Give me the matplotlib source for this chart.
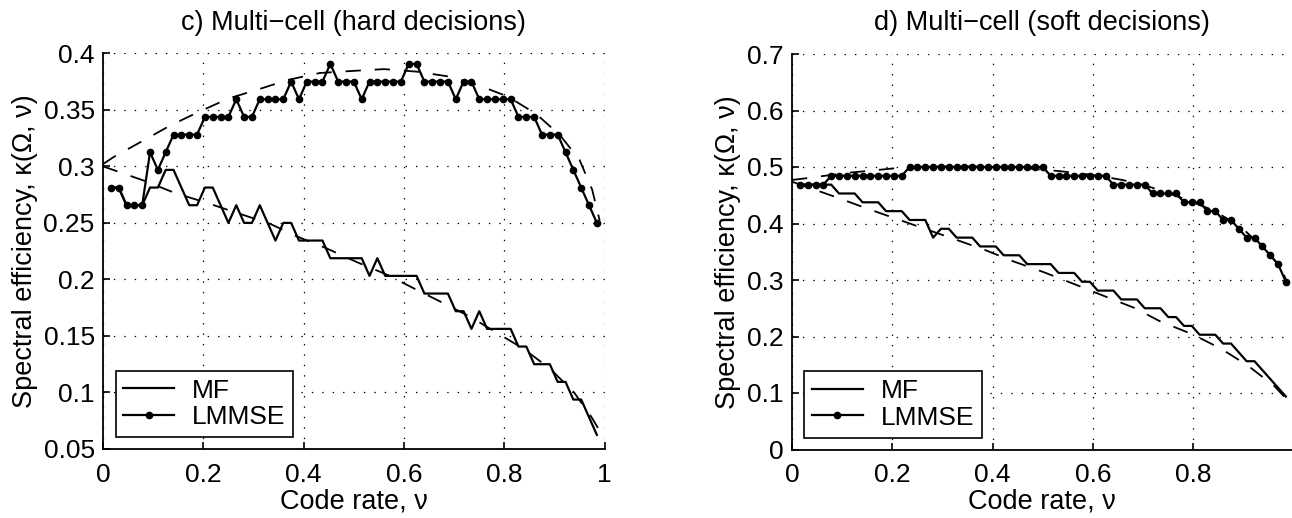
import numpy as np
import matplotlib
matplotlib.use("Agg")
import matplotlib.pyplot as plt
from matplotlib.lines import Line2D

plt.rcParams['font.family'] = ['Liberation Sans', 'DejaVu Sans']
plt.rcParams['lines.scale_dashes'] = False

# ---------------- data ----------------
QUANT = 64
code_rate = np.arange(1, 64) / QUANT          # rate grid k/64, k = 1..63

# (c) hard decisions, spectral efficiency in units of 1/64
mf_hard_levels = [18, 18, 17, 17, 17, 18, 18, 19, 19, 18, 17, 17, 18, 18, 17, 16,
                  17, 16, 16, 17, 16, 15, 16, 16, 15, 15, 15, 15, 14, 14, 14, 14,
                  14, 13, 14, 13, 13, 13, 13, 13, 12, 12, 12, 12, 11, 11, 10, 11,
                  10, 10, 10, 10, 9, 9, 8, 8, 8, 7, 7, 6, 6, 5, 4]
lmmse_hard_levels = [18, 18, 17, 17, 17, 20, 19, 20, 21, 21, 21, 21, 22, 22, 22, 22,
                     23, 22, 22, 23, 23, 23, 23, 24, 23, 24, 24, 24, 25, 24, 24, 24,
                     23, 24, 24, 24, 24, 24, 25, 25, 24, 24, 24, 24, 23, 24, 24, 23,
                     23, 23, 23, 23, 22, 22, 22, 21, 21, 21, 20, 19, 18, 17, 16]

# (d) soft decisions, units of 1/64
mf_soft_levels = [30, 30, 30, 30, 30, 29, 29, 29, 28, 28, 28, 27, 27, 27, 26, 26,
                  26, 24, 25, 25, 24, 24, 24, 23, 23, 23, 22, 22, 22, 21, 21, 21,
                  21, 20, 20, 20, 19, 19, 18, 18, 18, 17, 17, 17, 16, 16, 16, 15,
                  15, 14, 14, 13, 13, 13, 12, 12, 11, 10, 10, 9, 8, 7, 6]
lmmse_soft_levels = [30, 30, 30, 30, 31, 31, 31, 31, 31, 31, 31, 31, 31, 31, 32, 32,
                     32, 32, 32, 32, 32, 32, 32, 32, 32, 32, 32, 32, 32, 32, 32, 32,
                     31, 31, 31, 31, 31, 31, 31, 31, 30, 30, 30, 30, 30, 29, 29, 29,
                     29, 28, 28, 28, 27, 27, 26, 26, 25, 24, 24, 23, 22, 21, 19]

# theoretical (dashed) curves
mf_hard_theory_x = [0, 0.084, 0.143, 0.207, 0.266, 0.333, 0.384, 0.446, 0.506, 0.566,
                    0.619, 0.675, 0.733, 0.785, 0.837, 0.891, 0.939, 0.974, 0.99]
mf_hard_theory_y = [0.300, 0.287, 0.2765, 0.2677, 0.259, 0.2492, 0.2385, 0.2274, 0.2153,
                    0.2042, 0.1922, 0.1798, 0.1667, 0.1527, 0.139, 0.1211, 0.100, 0.078,
                    0.066]
lmmse_hard_theory_x = [0, 0.022, 0.077, 0.1335, 0.19, 0.25, 0.309, 0.369, 0.4325, 0.497,
                       0.56, 0.625, 0.686, 0.747, 0.807, 0.863, 0.911, 0.950, 0.975, 0.99]
lmmse_hard_theory_y = [0.302, 0.3085, 0.322, 0.336, 0.348, 0.36, 0.368, 0.3765, 0.3826,
                       0.3844, 0.386, 0.3838, 0.3797, 0.372, 0.3617, 0.3465, 0.3275,
                       0.3056, 0.2794, 0.252]
mf_soft_theory_x = [0, 0.084, 0.144, 0.2033, 0.263, 0.323, 0.385, 0.443, 0.502, 0.563,
                    0.622, 0.683, 0.7335, 0.798, 0.856, 0.9096, 0.961, 0.99]
mf_soft_theory_y = [0.474, 0.4478, 0.4283, 0.4097, 0.3912, 0.3726, 0.353, 0.3324, 0.3138,
                    0.2926, 0.2717, 0.2504, 0.2269, 0.204, 0.178, 0.1478, 0.1127, 0.085]
lmmse_soft_theory_x = [0, 0.024, 0.11, 0.155, 0.213, 0.25, 0.3, 0.4, 0.45, 0.531, 0.6,
                       0.659, 0.717, 0.783, 0.838, 0.893, 0.946, 0.973, 0.99]
lmmse_soft_theory_y = [0.477, 0.4796, 0.4897, 0.4933, 0.4985, 0.500, 0.501, 0.501, 0.499,
                       0.4929, 0.486, 0.477, 0.4637, 0.4434, 0.4239, 0.3956, 0.3513,
                       0.3235, 0.29]

titles = ["c) Multi\u2212cell (hard decisions)", "d) Multi\u2212cell (soft decisions)"]
xlabel = "Code rate, \u03bd"
ylabel = "Spectral efficiency, \u03ba(\u03a9, \u03bd)"
legend_labels = ["MF", "LMMSE"]
xticks_c = [0, 0.2, 0.4, 0.6, 0.8, 1]
xtick_labels_c = ["0", "0.2", "0.4", "0.6", "0.8", "1"]
yticks_c = [0.05, 0.1, 0.15, 0.2, 0.25, 0.3, 0.35, 0.4]
ytick_labels_c = ["0.05", "0.1", "0.15", "0.2", "0.25", "0.3", "0.35", "0.4"]
xticks_d = [0, 0.2, 0.4, 0.6, 0.8]
xtick_labels_d = ["0", "0.2", "0.4", "0.6", "0.8"]
yticks_d = [0, 0.1, 0.2, 0.3, 0.4, 0.5, 0.6, 0.7]
ytick_labels_d = ["0", "0.1", "0.2", "0.3", "0.4", "0.5", "0.6", "0.7"]

# ---------------- figure ----------------
W, H = 1292, 518
fig = plt.figure(figsize=(W / 100, H / 100), dpi=100)
ax1 = fig.add_axes([103 / W, 1 - 449 / H, 501.7 / W, (449 - 53.3) / H])
ax2 = fig.add_axes([792 / W, 1 - 449.5 / H, 0.996 * 501.7 / W, (449.5 - 54) / H])

FS = 19
FS_LAB = 19.5
LW = 1.6
DASH = (0, (11, 10))


def style(ax, xlim, ylim, xt, xtl, yt, ytl, title):
    ax.set_xlim(*xlim)
    ax.set_ylim(*ylim)
    ax.set_xticks(xt)
    ax.set_xticklabels(xtl)
    ax.set_yticks(yt)
    ax.set_yticklabels(ytl)
    for s in ("top", "right"):
        ax.spines[s].set_visible(False)
    for s in ("left", "bottom"):
        ax.spines[s].set_linewidth(1.3)
    ax.tick_params(direction="in", length=5, width=1.2, labelsize=FS,
                   top=False, right=False)
    ax.tick_params(axis="y", pad=6)
    ax.tick_params(axis="x", pad=10)
    ax.grid(True, color="black", linestyle=(0, (1, 6.5)), linewidth=0.9)
    ax.set_axisbelow(True)
    ax.set_title(title, fontsize=FS_LAB, pad=17)
    ax.set_xlabel(xlabel, fontsize=FS_LAB, labelpad=1)
    ax.set_ylabel(ylabel, fontsize=FS_LAB, labelpad=4)


def draw(ax, mf_levels, lm_levels, mfx, mfy, lmx, lmy):
    mf = np.array(mf_levels) / QUANT
    lm = np.array(lm_levels) / QUANT
    ax.plot(mfx, mfy, color="black", lw=1.3, linestyle=DASH, zorder=3)
    ax.plot(lmx, lmy, color="black", lw=1.3, linestyle=DASH, zorder=3)
    ax.plot(code_rate, mf, color="black", lw=LW, zorder=4)
    ax.plot(code_rate, lm, color="black", lw=LW, marker="o", markersize=4.5,
            zorder=5, clip_on=False)
    handles = [Line2D([], [], color="black", lw=LW),
               Line2D([], [], color="black", lw=LW, marker="o", markersize=4.5)]
    leg = ax.legend(handles, legend_labels, loc="lower left",
                    bbox_to_anchor=(0.025, 0.03), fontsize=FS, frameon=True,
                    fancybox=False, edgecolor="black", framealpha=1,
                    handlelength=1.9, handletextpad=0.7, borderpad=0.3,
                    labelspacing=0.1, borderaxespad=0)
    leg.get_frame().set_linewidth(1.2)


draw(ax1, mf_hard_levels, lmmse_hard_levels, mf_hard_theory_x, mf_hard_theory_y,
     lmmse_hard_theory_x, lmmse_hard_theory_y)
style(ax1, (0, 1), (0.05, 0.4), xticks_c, xtick_labels_c, yticks_c, ytick_labels_c,
      titles[0])

draw(ax2, mf_soft_levels, lmmse_soft_levels, mf_soft_theory_x, mf_soft_theory_y,
     lmmse_soft_theory_x, lmmse_soft_theory_y)
style(ax2, (0, 0.996), (0, 0.7), xticks_d, xtick_labels_d, yticks_d, ytick_labels_d,
      titles[1])

fig.savefig("out.png", dpi=100)
